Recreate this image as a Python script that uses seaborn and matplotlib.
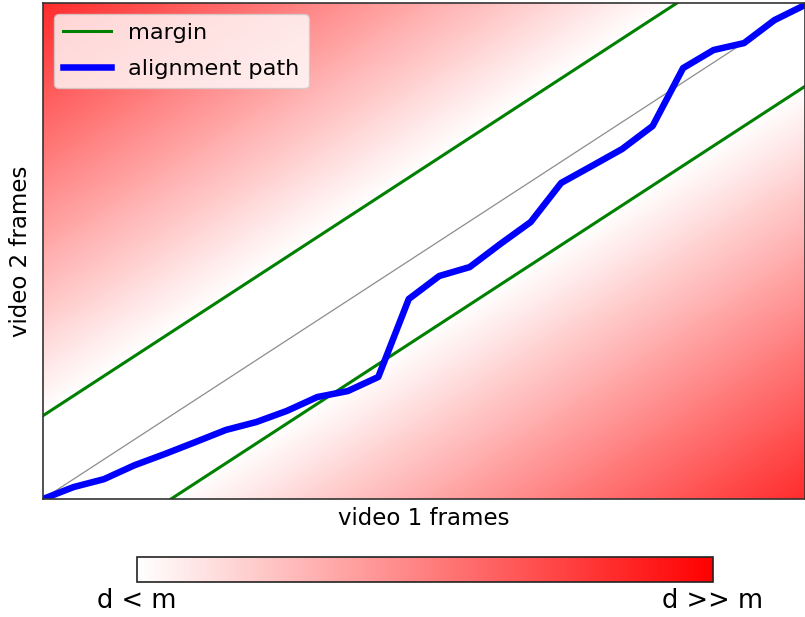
import numpy as np
import matplotlib
matplotlib.use("Agg")
import matplotlib.pyplot as plt
from matplotlib.colors import LinearSegmentedColormap
import seaborn as sns

# ---- data ----
n_frames = 25              # frames in each video (axis range 0..25)
margin = 4.2               # band half-width in frames
path_x = list(range(26))
path_y = [0.0, 0.6, 1.0, 1.7, 2.27, 2.87, 3.48, 3.88, 4.44, 5.14, 5.44, 6.15,
          10.08, 11.24, 11.69, 12.85, 13.96, 15.93, 16.78, 17.64, 18.8,
          21.72, 22.63, 22.98, 24.14, 24.9]
cbar_labels = ["d < m", "d >> m"]
vmax = 25.0

# ---- figure ----
fig = plt.figure(figsize=(8.05, 6.17), dpi=100)
ax = fig.add_axes([43/805, 1-499/617, 762/805, 496/617])
cax = fig.add_axes([137/805, 1-582/617, 576/805, 25/617])

res = 10  # grid cells per frame
n = n_frames * res
centers = (np.arange(n) + 0.5) / res
X, Y = np.meshgrid(centers, centers)
Z = np.clip(np.abs(X - Y) - margin, 0, None)

cmap = LinearSegmentedColormap.from_list("wr", ["white", "red"])
sns.heatmap(Z, ax=ax, cmap=cmap, vmin=0, vmax=vmax, cbar_ax=cax,
            cbar_kws={"orientation": "horizontal", "ticks": [0, vmax]},
            xticklabels=False, yticklabels=False, rasterized=True)
ax.set_ylim(0, n)
ax.set_xlim(0, n)
for s in ax.spines.values():
    s.set_visible(True)
    s.set_color("#333333")
    s.set_linewidth(1.2)
ax.xaxis.set_ticks_position("bottom")
ax.yaxis.set_ticks_position("left")
ax.xaxis.set_label_position("bottom")
ax.yaxis.set_label_position("left")

# diagonal
diag = np.array([0, n_frames])
ax.plot(diag * res, diag * res, color="gray", lw=0.9, alpha=0.9)
# margin lines
ux = np.array([0, n_frames - margin])
sns.lineplot(x=ux * res, y=(ux + margin) * res, ax=ax, color="green", lw=2.2,
             label="margin")
lx = np.array([margin, n_frames])
sns.lineplot(x=lx * res, y=(lx - margin) * res, ax=ax, color="green", lw=2.2)
# alignment path
sns.lineplot(x=np.array(path_x) * res, y=np.array(path_y) * res, ax=ax,
             color="blue", lw=4.7, sort=False, label="alignment path")

ax.set_xticks([])
ax.set_yticks([])
ax.set_xlabel("video 1 frames", fontsize=16.5, labelpad=6, visible=True)
ax.set_ylabel("video 2 frames", fontsize=16.5, labelpad=8, visible=True)
ax.legend(loc="upper left", fontsize=16.2, handlelength=2.1, framealpha=0.8,
          labelspacing=0.7)

cb = ax.collections[0].colorbar
cb.outline.set_visible(True)
cb.outline.set_linewidth(1.2)
cb.outline.set_edgecolor("#222222")
cax.set_xticks([0, vmax])
cax.set_xticklabels(cbar_labels, fontsize=18.5)
cax.tick_params(length=0, pad=4)

fig.savefig("out.png", dpi=100)
